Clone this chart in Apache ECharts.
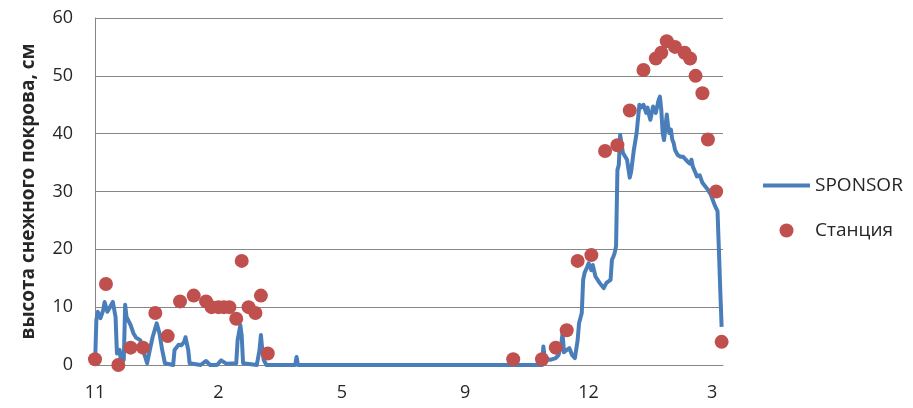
<!DOCTYPE html>
<html>
<head>
<meta charset="utf-8">
<script src="https://cdn.jsdelivr.net/npm/echarts@6/dist/echarts.min.js"></script>
<style>
  html, body { margin: 0; padding: 0; background: #fff; }
  #chart { width: 913px; height: 408px; }
</style>
</head>
<body>
<div id="chart"></div>
<script>
// Day index since the start of the record (labels every 90 days)
const dayMax = 458;
const labelStep = 90;
const monthLabels = ['11', '2', '5', '9', '12', '3'];

// SPONSOR sensor: snow depth, cm  [day, depth]
const sponsorDays = [
  0, 1, 2, 4, 6, 7, 9, 10, 13, 15, 16, 17, 18, 19, 21, 22, 23, 26, 28, 30,
  33, 35, 38, 40, 42, 45, 47, 49, 51, 57, 58, 61, 63, 65, 66, 68, 69, 77, 81, 84,
  89, 92, 96, 103, 104, 106, 107, 108, 118, 120, 121, 122, 123, 125, 146, 147, 148, 322, 326, 327,
  328, 332, 336, 338, 340, 341, 342, 344, 346, 348, 350, 352, 353, 355, 356, 357, 359, 360, 362, 363,
  365, 368, 371, 373, 376, 377, 378, 379, 380, 381, 382, 383, 385, 388, 390, 391, 393, 395, 397, 398,
  400, 402, 403, 404, 405, 407, 409, 411, 412, 413, 414, 415, 417, 418, 419, 420, 421, 422, 423, 425,
  427, 429, 432, 434, 435, 436, 438, 439, 441, 443, 445, 447, 449, 452, 454, 455, 456, 457
];
const sponsorDepth = [
  0, 7.8, 9.2, 8.1, 9.5, 10.9, 9.2, 9.6, 10.9, 8.3, 2, 1.8, 2.6, 0.3, 0.9, 10.4, 8.3, 6.9, 5.5, 4.7,
  4.3, 2.6, 0.3, 2.6, 4.8, 7.2, 5.5, 2.6, 0.3, 0, 2.6, 3.5, 3.4, 4, 4.8, 2.6, 0.3, 0, 0.7, 0,
  0, 0.8, 0.2, 0.3, 4.3, 6.9, 5, 0.3, 0, 2.6, 5.2, 2.6, 0.9, 0, 0, 1.4, 0, 0, 0, 3.2,
  1.2, 0.9, 1.2, 1.7, 3.5, 5.5, 2.2, 2.6, 2.9, 1.7, 1.2, 4.3, 7.2, 9, 14.7, 15.9, 17, 17.6, 16.4, 17.3,
  15.3, 14.2, 13.3, 14.2, 14.7, 18.2, 18.7, 19.4, 20.5, 33.7, 34.6, 39.8, 36.7, 35.5, 32.4, 33.4, 37.2, 40.1, 45, 44.5,
  45, 43.6, 44.5, 43.3, 42.4, 44.7, 43.6, 45.8, 46.4, 44.1, 40.1, 38.9, 43.3, 41.2, 40.1, 40.7, 39, 38.4, 37.2, 36.3,
  36, 36, 35.2, 34.8, 35.5, 34.3, 33.2, 32.6, 32.8, 31.5, 30.9, 30.3, 29.5, 27.6, 26.6, 20, 13, 6.6
];

// Weather station observations  [day, depth]
const stationDays = [
  0, 8, 17, 26, 35, 44, 53, 62, 72, 81, 85, 90, 94, 98, 103, 107, 112, 117, 121, 126,
  305, 326, 336, 344, 352, 362, 372, 381, 390, 400, 409, 413, 417, 423, 430, 434, 438, 443, 447, 453, 457
];
const stationDepth = [
  1, 14, 0, 3, 3, 9, 5, 11, 12, 11, 10, 10, 10, 10, 8, 18, 10, 9, 12, 2,
  1, 1, 3, 6, 18, 19, 37, 38, 44, 51, 53, 54, 56, 55, 54, 53, 50, 47, 39, 30, 4
];

const sponsorData = sponsorDays.map((d, i) => [d, sponsorDepth[i]]);
const stationData = stationDays.map((d, i) => [d, stationDepth[i]]);

const chart = echarts.init(document.getElementById('chart'), null, { renderer: 'canvas' });
const axisGray = '#868686';
const textColor = '#262626';
const lineBlue = '#4A7EBB';
const dotRed = '#C0504D';
const fontFamily = '"Open Sans", "Noto Sans", sans-serif';

chart.setOption({
  animation: false,
  backgroundColor: '#fff',
  grid: { left: 95, right: 190, top: 18, bottom: 43 },
  legend: {
    orient: 'vertical',
    left: 763,
    top: 176,
    padding: 0,
    itemWidth: 47,
    itemHeight: 14,
    itemGap: 26,
    textStyle: { fontSize: 19, color: textColor, fontFamily: fontFamily },
    data: [
      { name: 'SPONSOR', icon: 'path://M0,0H47V4H0Z', itemStyle: { color: lineBlue } },
      { name: 'Станция', icon: 'circle', itemStyle: { color: dotRed } }
    ]
  },
  xAxis: {
    type: 'value',
    min: 0,
    max: dayMax,
    interval: labelStep,
    axisLine: { show: true, lineStyle: { color: axisGray, width: 1 } },
    axisTick: { show: false },
    splitLine: { show: false },
    axisLabel: {
      fontSize: 18,
      color: textColor,
      fontFamily: fontFamily,
      margin: 19,
      showMaxLabel: false,
      formatter: function (v) {
        if (v % labelStep !== 0) return '';
        return monthLabels[v / labelStep] || '';
      }
    }
  },
  yAxis: {
    type: 'value',
    min: 0,
    max: 60,
    interval: 10,
    name: 'высота снежного покрова, см',
    nameLocation: 'middle',
    nameGap: 57,
    nameTextStyle: { fontSize: 19, fontWeight: 'bold', color: textColor, fontFamily: fontFamily },
    axisLine: { show: true, lineStyle: { color: axisGray, width: 1 } },
    axisTick: { show: false },
    splitLine: { show: true, lineStyle: { color: axisGray, width: 1 } },
    axisLabel: { fontSize: 18, color: textColor, fontFamily: fontFamily, margin: 22 }
  },
  series: [
    {
      name: 'SPONSOR',
      type: 'line',
      data: sponsorData,
      symbol: 'none',
      showSymbol: false,
      lineStyle: { color: lineBlue, width: 4, join: 'round' },
      itemStyle: { color: lineBlue },
      z: 2
    },
    {
      name: 'Станция',
      type: 'scatter',
      data: stationData,
      symbol: 'circle',
      symbolSize: 14,
      itemStyle: { color: dotRed, opacity: 1 },
      z: 3
    }
  ]
});
</script>
</body>
</html>
